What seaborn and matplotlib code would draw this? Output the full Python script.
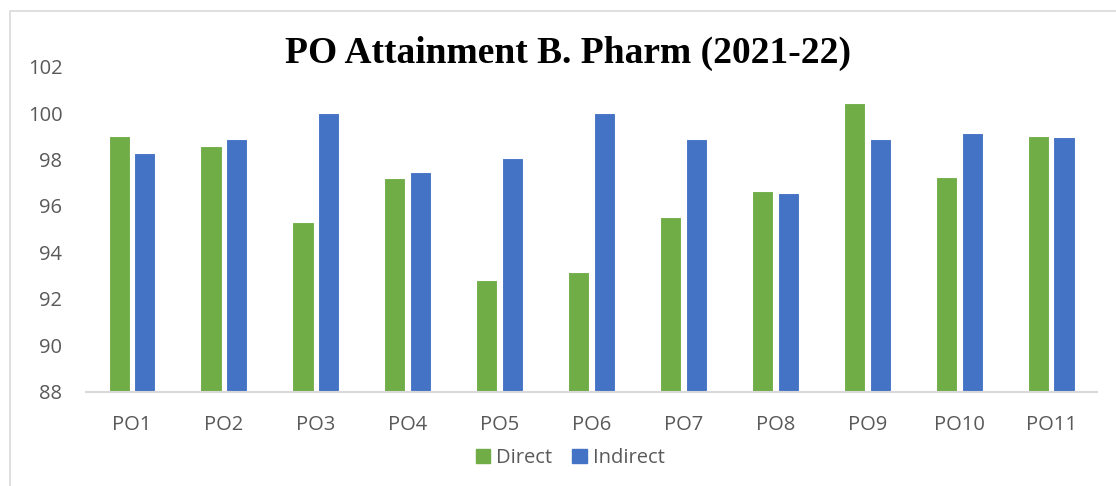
import pandas as pd
import matplotlib.pyplot as plt
import matplotlib.patches as mpatches
import seaborn as sns

sns.set_style("white")
plt.rcParams['font.family'] = ['Open Sans', 'DejaVu Sans']

pos = ["PO1", "PO2", "PO3", "PO4", "PO5", "PO6", "PO7", "PO8", "PO9", "PO10", "PO11"]
direct = [99.0, 98.57, 95.3, 97.21, 92.83, 93.14, 95.54, 96.66, 100.45, 97.26, 99.0]
indirect = [98.3, 98.87, 100.0, 97.45, 98.05, 100.0, 98.87, 96.55, 98.87, 99.13, 98.96]

df = pd.DataFrame({"PO": pos * 2,
                   "value": direct + indirect,
                   "type": ["Direct"] * len(pos) + ["Indirect"] * len(pos)})

fig = plt.figure(figsize=(11.16, 4.86), dpi=100)
ax = fig.add_axes([0.0771, 0.194, 0.906, 0.669])

sns.barplot(data=df, x="PO", y="value", hue="type", ax=ax,
            palette={"Direct": "#70AD47", "Indirect": "#4472C4"}, saturation=1,
            width=0.56, gap=0.18, edgecolor="white", linewidth=0.8)

ax.set_ylim(88, 102)
ax.set_yticks(range(88, 103, 2))
ax.set_xlabel("")
ax.set_ylabel("")
for s in ["top", "right", "left"]:
    ax.spines[s].set_visible(False)
ax.spines["bottom"].set_color("#D9D9D9")
ax.spines["bottom"].set_linewidth(1.5)
ax.tick_params(axis="both", length=0, labelsize=14.5, colors="#595959")
ax.tick_params(axis="x", pad=17)
ax.tick_params(axis="y", pad=17)

ax.legend_.remove()
handles = [mpatches.Patch(color="#70AD47", label="Direct"),
           mpatches.Patch(color="#4472C4", label="Indirect")]
fig.legend(handles=handles, loc="center", bbox_to_anchor=(0.511, 0.058), ncol=2,
           frameon=False, fontsize=14.5, labelcolor="#595959",
           handlelength=0.7, handleheight=0.7, handletextpad=0.3, columnspacing=1.0)

fig.text(0.509, 0.89, "PO Attainment B. Pharm (2021-22)", ha="center", va="center",
         fontsize=27, fontweight="bold", color="black",
         family=["Liberation Serif", "DejaVu Serif"])

# chart frame
fig.patches.append(mpatches.Rectangle((10 / 1116, -0.1), 1.2, 1 - 11 / 486 + 0.1,
                                      transform=fig.transFigure, fill=False,
                                      edgecolor="#D9D9D9", linewidth=1.2))

plt.savefig("out.png", dpi=100)
